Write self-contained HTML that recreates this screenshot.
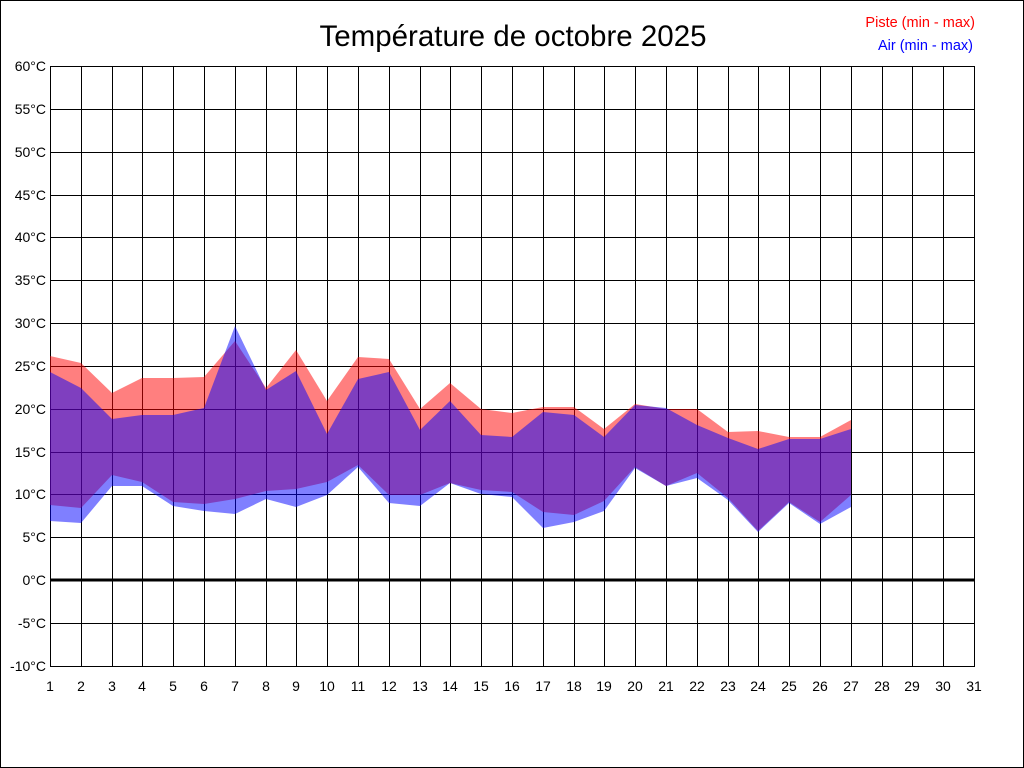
<!DOCTYPE html>
<html><head><meta charset="utf-8"><style>
html,body{margin:0;padding:0;background:#fff}
svg{display:block}
text{font-family:"Liberation Sans",Arial,sans-serif}
</style></head><body>
<svg width="1024" height="768" viewBox="0 0 1024 768" xmlns="http://www.w3.org/2000/svg">
<rect x="0.5" y="0.5" width="1023" height="767" fill="#fff" stroke="#000"/>
<g stroke="#000" stroke-width="1" shape-rendering="crispEdges">
<path d="M50.5 66V666M81.5 66V666M112.5 66V666M142.5 66V666M173.5 66V666M204.5 66V666M235.5 66V666M266.5 66V666M296.5 66V666M327.5 66V666M358.5 66V666M389.5 66V666M420.5 66V666M450.5 66V666M481.5 66V666M512.5 66V666M543.5 66V666M574.5 66V666M604.5 66V666M635.5 66V666M666.5 66V666M697.5 66V666M728.5 66V666M758.5 66V666M789.5 66V666M820.5 66V666M851.5 66V666M882.5 66V666M912.5 66V666M943.5 66V666M974.5 66V666"/>
<path d="M50 66.5H975M50 109.5H975M50 152.5H975M50 195.5H975M50 237.5H975M50 280.5H975M50 323.5H975M50 366.5H975M50 409.5H975M50 452.5H975M50 494.5H975M50 537.5H975M50 623.5H975M50 666.5H975"/>
</g>
<line x1="50" y1="580" x2="975" y2="580" stroke="#000" stroke-width="3"/>
<polygon fill="rgba(255,0,0,0.5)" points="50,356 81,363 112,393 142,378 173,378 204,377 235,341 266,388 296,350 327,401 358,357 389,359 420,409 450,383 481,409 512,413 543,407 574,407 604,429 635,404 666,409 697,409 728,432 758,431 789,437 820,437 851,420 851,495 820,522 789,502 758,531 728,498 697,473 666,486 635,467 604,501 574,515 543,512 512,492 481,490 450,483 420,495 389,495 358,465 327,482 296,489 266,491 235,499 204,504 173,502 142,482 112,475 81,508 50,505"/>
<polygon fill="rgba(0,0,255,0.5)" points="50,372 81,388 112,419 142,415 173,415 204,408 235,326 266,390 296,371 327,434 358,379 389,372 420,430 450,401 481,435 512,437 543,412 574,415 604,437 635,405 666,408 697,425 728,438 758,449 789,439 820,439 851,429 851,507 820,524 789,503 758,532 728,500 697,478 666,486 635,468 604,511 574,522 543,528 512,497 481,494 450,483 420,506 389,503 358,467 327,495 296,507 266,499 235,514 204,511 173,506 142,486 112,486 81,523 50,521"/>
<g font-size="14" fill="#000" text-anchor="end">
<text x="46" y="71">60°C</text><text x="46" y="114">55°C</text><text x="46" y="157">50°C</text><text x="46" y="200">45°C</text><text x="46" y="242">40°C</text><text x="46" y="285">35°C</text><text x="46" y="328">30°C</text><text x="46" y="371">25°C</text><text x="46" y="414">20°C</text><text x="46" y="457">15°C</text><text x="46" y="499">10°C</text><text x="46" y="542">5°C</text><text x="46" y="585">0°C</text><text x="46" y="628">-5°C</text><text x="46" y="671">-10°C</text>
</g>
<g font-size="14" fill="#000" text-anchor="middle">
<text x="50" y="691">1</text><text x="81" y="691">2</text><text x="112" y="691">3</text><text x="142" y="691">4</text><text x="173" y="691">5</text><text x="204" y="691">6</text><text x="235" y="691">7</text><text x="266" y="691">8</text><text x="296" y="691">9</text><text x="327" y="691">10</text><text x="358" y="691">11</text><text x="389" y="691">12</text><text x="420" y="691">13</text><text x="450" y="691">14</text><text x="481" y="691">15</text><text x="512" y="691">16</text><text x="543" y="691">17</text><text x="574" y="691">18</text><text x="604" y="691">19</text><text x="635" y="691">20</text><text x="666" y="691">21</text><text x="697" y="691">22</text><text x="728" y="691">23</text><text x="758" y="691">24</text><text x="789" y="691">25</text><text x="820" y="691">26</text><text x="851" y="691">27</text><text x="882" y="691">28</text><text x="912" y="691">29</text><text x="943" y="691">30</text><text x="974" y="691">31</text>
</g>
<text x="513" y="46" font-size="29.5" text-anchor="middle" fill="#000">Température de octobre 2025</text>
<text x="975" y="27" font-size="14.5" text-anchor="end" fill="#ff0000">Piste (min - max)</text>
<text x="973" y="50" font-size="14.5" text-anchor="end" fill="#0000ff">Air (min - max)</text>
</svg>
</body></html>
